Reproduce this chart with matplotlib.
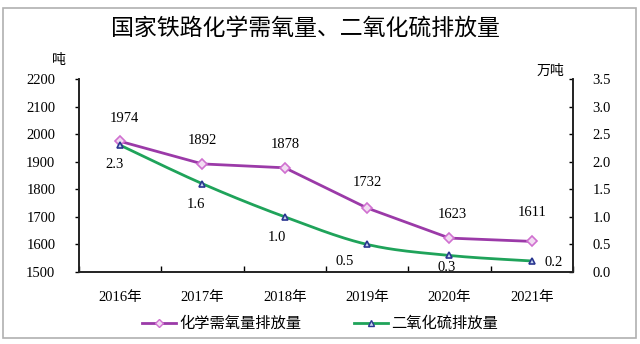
import numpy as np
import matplotlib.pyplot as plt
from matplotlib.patches import Rectangle

plt.rcParams['font.family'] = ['Liberation Serif', 'Noto Sans CJK SC']

# 数据
years = ['2016年', '2017年', '2018年', '2019年', '2020年', '2021年']
cod = [1974, 1892, 1878, 1732, 1623, 1611]      # 化学需氧量排放量（吨）
so2 = [2.3, 1.6, 1.0, 0.5, 0.3, 0.2]            # 二氧化硫排放量（万吨）
cod_name = '化学需氧量排放量'
so2_name = '二氧化硫排放量'

# 标签偏移（像素点）
cod_off = [(3, 12), (0, 12), (0, 12), (0, 14), (2, 12), (0, 16)]
so2_off = [(-4, -14), (-5, -15), (-6, -15), (-16, -12), (-2, -9), (16, -1)]

purple = '#9b3aa8'
green = '#1fa35a'


def smooth(xs, ys, n=30):
    # Excel 风格平滑线：Catmull-Rom 三次 Bezier
    xs = np.asarray(xs, float)
    ys = np.asarray(ys, float)
    px = np.concatenate([[xs[0]], xs, [xs[-1]]])
    py = np.concatenate([[ys[0]], ys, [ys[-1]]])
    outx, outy = [], []
    t = np.linspace(0, 1, n)
    for i in range(1, len(px) - 2):
        p0 = np.array([px[i], py[i]])
        p3 = np.array([px[i + 1], py[i + 1]])
        p1 = p0 + (np.array([px[i + 1], py[i + 1]]) - np.array([px[i - 1], py[i - 1]])) / 6
        p2 = p3 - (np.array([px[i + 2], py[i + 2]]) - np.array([px[i], py[i]])) / 6
        b = ((1 - t) ** 3)[:, None] * p0 + (3 * (1 - t) ** 2 * t)[:, None] * p1 \
            + (3 * (1 - t) * t ** 2)[:, None] * p2 + (t ** 3)[:, None] * p3
        outx.extend(b[:, 0])
        outy.extend(b[:, 1])
    return outx, outy


fig = plt.figure(figsize=(6.4, 3.44), dpi=100)
fig.patches.append(Rectangle((0.005, 0.018), 0.988, 0.958, transform=fig.transFigure,
                             fill=False, edgecolor='#b0b0b0', linewidth=1.2))

ax = fig.add_axes([0.1234, 0.2093, 0.7719, 0.561])
ax2 = ax.twinx()

x = np.arange(len(years))
ax.plot(x, cod, color=purple, linewidth=2, marker='D', markersize=5,
        markerfacecolor='#f2dcf2', markeredgecolor='#d070d0', markeredgewidth=1.2, zorder=3)
sx, sy = smooth(x, so2)
ax2.plot(sx, sy, color=green, linewidth=2, zorder=3)
ax2.plot(x, so2, linestyle='none', marker='^', markersize=5,
         markerfacecolor='#c8d8f0', markeredgecolor='#2a3590', markeredgewidth=1.2, zorder=4)

for xi, v, o in zip(x, cod, cod_off):
    ax.annotate(str(v), (xi, v), xytext=o, textcoords='offset points',
                ha='center', va='bottom', fontsize=10.5)
for xi, v, o in zip(x, so2, so2_off):
    ax2.annotate(f'{v:.1f}', (xi, v), xytext=o, textcoords='offset points',
                 ha='center', va='center', fontsize=10.5)

ax.set_xlim(-0.5, len(years) - 0.5)
ax.set_ylim(1500, 2200)
ax.set_yticks(np.arange(1500, 2201, 100))
ax2.set_ylim(0, 3.5)
ax2.set_yticks(np.arange(0, 3.51, 0.5))
ax2.set_yticklabels([f'{v:.1f}' for v in np.arange(0, 3.51, 0.5)])

ax.set_xticks(x)
ax.set_xticklabels(years, fontsize=10.5)
ax.set_xticks(np.arange(-0.5, len(years)), minor=True)
ax.tick_params(axis='x', which='major', length=0, pad=14)
ax.tick_params(axis='x', which='minor', direction='in', length=4, width=1)
ax.tick_params(axis='y', direction='out', length=3, width=1, labelsize=10.5, pad=14)
ax2.tick_params(axis='y', direction='in', length=3, width=1, labelsize=10.5, pad=14)

for a in (ax, ax2):
    a.spines['top'].set_visible(False)
    for s in ('left', 'right', 'bottom'):
        a.spines[s].set_linewidth(1.2)
        a.spines[s].set_color('#222222')

fig.text(0.477, 0.918, '国家铁路化学需氧量、二氧化硫排放量', ha='center', va='center',
         fontsize=16.5, weight='medium', family=['Noto Sans CJK SC'])
fig.text(0.092, 0.825, '吨', ha='center', va='center', fontsize=10, family=['Noto Sans CJK SC'])
fig.text(0.86, 0.795, '万吨', ha='center', va='center', fontsize=10, family=['Noto Sans CJK SC'])

h1, = ax.plot([], [], color=purple, linewidth=2, marker='D', markersize=4,
              markerfacecolor='#f2dcf2', markeredgecolor='#d070d0')
h2, = ax.plot([], [], color=green, linewidth=2, marker='^', markersize=4,
              markerfacecolor='#c8d8f0', markeredgecolor='#2a3590')
fig.legend([h1, h2], [cod_name, so2_name], loc='center', bbox_to_anchor=(0.5, 0.06),
           ncol=2, frameon=False, fontsize=11, columnspacing=3.5, handlelength=2.2,
           handletextpad=0.2, prop={'family': ['Noto Sans CJK SC'], 'size': 11})

fig.savefig('out.png', dpi=100)
